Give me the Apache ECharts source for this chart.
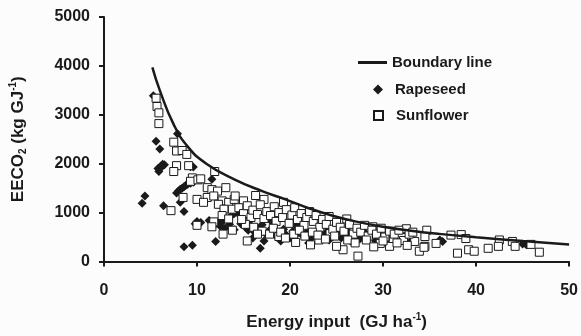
<!DOCTYPE html>
<html>
<head>
<meta charset="utf-8">
<script src="https://cdn.jsdelivr.net/npm/echarts@6/dist/echarts.min.js"></script>
<style>
  html, body { margin: 0; padding: 0; background: #fcfcfc; }
  #chart { width: 581px; height: 336px; }
</style>
</head>
<body>
<div id="chart"></div>
<script>
// boundary line
var boundaryLine = [
  [5.2, 3970], [6, 3500], [7.5, 2800], [9, 2350], [11, 2000], [14, 1680],
  [17, 1440], [19.5, 1270], [22, 1090], [24.5, 940], [27, 820], [30, 710],
  [33, 630], [36, 565], [40, 495], [45, 420], [50, 350]
];

// rapeseed (filled diamonds)
var rapeseed = [
  [5.3, 3390], [5.6, 2460], [6.0, 2300], [5.9, 1840], [5.8, 1900], [6.1, 1950],
  [6.3, 1990], [6.5, 1980], [6.2, 1930], [4.4, 1340], [4.1, 1190], [6.4, 1140],
  [7.9, 2610], [7.8, 1400], [8.0, 1440], [8.2, 1480], [8.4, 1500], [8.6, 1530],
  [8.8, 1560], [9.0, 1580], [9.3, 1600], [9.6, 1620], [8.2, 1210], [8.6, 1020],
  [8.6, 300], [9.5, 330], [9.6, 1930], [9.3, 1940], [9.8, 770], [10.0, 820],
  [10.4, 800], [11.3, 840], [11.6, 1680], [12.0, 410], [12.0, 770], [12.4, 800],
  [12.8, 830], [13.2, 870], [13.6, 920], [14.0, 980], [14.3, 1000], [12.5, 720],
  [13.0, 680], [13.5, 760], [14.0, 650], [14.7, 770], [15.2, 700], [15.5, 640],
  [15.8, 720], [16.2, 600], [16.5, 680], [16.8, 270], [17.0, 750], [17.4, 560],
  [17.8, 640], [18.2, 700], [18.5, 520], [18.9, 600], [19.3, 660], [19.6, 540],
  [20.0, 480], [20.3, 620], [20.7, 560], [21.0, 700], [21.4, 520], [21.8, 600],
  [22.2, 460], [22.6, 560], [23.0, 640], [23.4, 500], [23.8, 580], [24.2, 440],
  [24.7, 520], [25.1, 600], [25.5, 480], [26.0, 560], [26.5, 420], [27.0, 520],
  [27.5, 460], [28.0, 600], [28.6, 500], [29.2, 420], [29.8, 520], [30.5, 460],
  [31.2, 560], [32.0, 480], [33.0, 420], [36.1, 440], [36.4, 410], [45.4, 340],
  [45.0, 360], [15.0, 900], [15.6, 820], [16.0, 480], [17.2, 420], [18.0, 820],
  [19.0, 420], [20.5, 760], [22.0, 380], [24.0, 700], [26.2, 620]
];

// sunflower (open squares)
var sunflower = [
  [5.6, 3340], [5.7, 3170], [5.9, 3040], [5.9, 2820], [7.5, 2440], [7.8, 2260],
  [8.4, 2270], [8.9, 2190], [7.8, 1960], [7.5, 1840], [9.1, 1960], [9.5, 1710],
  [9.3, 1640], [8.5, 1310], [7.2, 1040], [10.0, 740], [10.1, 1670], [10.0, 1270],
  [10.4, 1690], [11.9, 1840], [11.1, 1510], [11.6, 1470], [12.2, 1440], [13.1, 1510],
  [11.1, 1310], [11.8, 1340], [12.7, 1240], [13.4, 1210], [14.0, 1270], [10.7, 1210],
  [12.3, 1170], [12.9, 1070], [13.8, 1070], [12.7, 940], [13.4, 870], [11.8, 810],
  [11.6, 710], [14.1, 1340], [16.3, 1350], [17.2, 1270], [19.3, 1210], [15.0, 1240],
  [15.4, 420], [18.8, 510], [20.6, 390], [22.2, 340], [23.1, 440], [24.3, 570],
  [26.1, 870], [28.9, 710], [32.5, 670], [27.3, 110], [25.7, 240], [33.9, 210],
  [34.5, 310], [25.0, 310], [30.7, 310], [29.7, 370], [33.4, 410], [31.1, 470],
  [32.0, 490], [34.7, 640], [34.5, 510], [34.4, 290], [35.7, 370], [37.3, 540],
  [38.4, 550], [38.9, 470], [38.0, 170], [39.2, 240], [39.8, 210], [41.3, 270],
  [42.5, 440], [42.4, 310], [43.9, 410], [44.2, 310], [45.9, 350], [46.8, 190],
  [14.5, 1100], [15.0, 980], [15.4, 1140], [15.8, 900], [16.0, 1050], [16.5, 960],
  [16.8, 1160], [17.2, 880], [17.5, 1020], [17.9, 940], [18.3, 1120], [18.5, 820],
  [18.8, 1000], [19.2, 900], [19.6, 1060], [19.9, 780], [20.2, 950], [20.5, 1100],
  [20.8, 860], [21.2, 980], [21.5, 740], [21.8, 900], [22.1, 1020], [22.5, 820],
  [22.8, 940], [23.2, 700], [23.5, 860], [23.9, 760], [24.2, 920], [24.6, 660],
  [25.0, 800], [25.4, 700], [25.8, 620], [26.4, 760], [26.8, 560], [27.2, 680],
  [27.6, 600], [28.0, 740], [28.4, 520], [28.8, 640], [29.3, 560], [29.8, 680],
  [30.2, 500], [30.7, 620], [31.2, 560], [31.7, 640], [32.2, 430], [32.8, 560],
  [33.2, 600], [15.2, 760], [16.1, 700], [17.0, 620], [17.8, 560], [18.2, 680],
  [19.0, 600], [19.5, 480], [20.4, 560], [21.0, 640], [21.6, 520], [22.4, 600],
  [23.0, 540], [23.8, 460], [24.8, 520], [26.2, 440], [27.0, 380], [28.2, 440],
  [29.0, 300], [30.0, 420], [31.5, 380], [32.6, 330], [16.5, 560], [14.8, 860],
  [13.8, 640], [12.8, 560]
];

var xTicks = [0, 10, 20, 30, 40, 50];
var yTicks = [0, 1000, 2000, 3000, 4000, 5000];

var ink = '#1a1a1a';
var font = 'Liberation Sans, Arial, sans-serif';

var myChart = echarts.init(document.getElementById('chart'));

var legendText = { color: ink, fontSize: 15, fontWeight: 'bold', fontFamily: font };

var option = {
  animation: false,
  backgroundColor: '#fcfcfc',
  grid: { left: 103, right: 11, top: 17, bottom: 69 },
  legend: [
    {
      data: [{ name: 'Boundary line', icon: 'rect' }],
      left: 358, top: 55, padding: 0, itemWidth: 29, itemHeight: 3, itemGap: 0,
      textStyle: legendText, itemStyle: { color: ink }
    },
    {
      data: [{ name: 'Rapeseed', icon: 'diamond' }],
      left: 373, top: 82, padding: 0, itemWidth: 10, itemHeight: 10, itemGap: 0,
      textStyle: Object.assign({ padding: [0, 0, 0, 7] }, legendText)
    },
    {
      data: [{ name: 'Sunflower', icon: 'rect' }],
      left: 373, top: 108, padding: 0, itemWidth: 9, itemHeight: 9, itemGap: 0,
      textStyle: Object.assign({ padding: [0, 0, 0, 8] }, legendText)
    }
  ],
  xAxis: {
    type: 'value',
    min: xTicks[0], max: xTicks[xTicks.length - 1], interval: 10,
    name: '{a|Energy input  (GJ ha}{sup|-1}{a|)}',
    nameLocation: 'middle', nameGap: 51,
    nameTextStyle: {
      rich: {
        a: { fontSize: 17, fontWeight: 'bold', color: ink, fontFamily: font, lineHeight: 20 },
        sup: { fontSize: 10, fontWeight: 'bold', color: ink, fontFamily: font, verticalAlign: 'top', lineHeight: 20 }
      }
    },
    splitLine: { show: false },
    axisLine: { lineStyle: { color: ink, width: 2 } },
    axisTick: { length: 5, lineStyle: { color: ink, width: 2 } },
    axisLabel: { color: ink, fontSize: 16, fontWeight: 'bold', fontFamily: font, margin: 21 }
  },
  yAxis: {
    type: 'value',
    min: yTicks[0], max: yTicks[yTicks.length - 1], interval: 1000,
    name: '{a|EECO}{sub|2}{a| (kg GJ}{sup|-1}{a|)}',
    nameLocation: 'middle', nameGap: 76, nameRotate: 90,
    nameTextStyle: {
      rich: {
        a: { fontSize: 17, fontWeight: 'bold', color: ink, fontFamily: font, lineHeight: 20 },
        sub: { fontSize: 10, fontWeight: 'bold', color: ink, fontFamily: font, verticalAlign: 'bottom', lineHeight: 20 },
        sup: { fontSize: 10, fontWeight: 'bold', color: ink, fontFamily: font, verticalAlign: 'top', lineHeight: 20 }
      }
    },
    splitLine: { show: false },
    axisLine: { show: true, lineStyle: { color: ink, width: 2 } },
    axisTick: { show: true, length: 5, lineStyle: { color: ink, width: 2 } },
    axisLabel: {
      color: ink, fontSize: 16, fontWeight: 'bold', fontFamily: font, margin: 14,
      formatter: function (v) { return String(v); }
    }
  },
  series: [
    {
      name: 'Boundary line',
      type: 'line',
      data: boundaryLine,
      smooth: true,
      showSymbol: false,
      lineStyle: { color: ink, width: 2.5 },
      itemStyle: { color: ink },
      z: 3
    },
    {
      name: 'Rapeseed',
      type: 'scatter',
      data: rapeseed,
      symbol: 'diamond',
      symbolSize: 9,
      itemStyle: { color: ink, opacity: 1 },
      z: 2
    },
    {
      name: 'Sunflower',
      type: 'scatter',
      data: sunflower,
      symbol: 'rect',
      symbolSize: 8,
      itemStyle: { color: '#ffffff', borderColor: ink, borderWidth: 1, opacity: 1 },
      z: 2
    }
  ]
};

myChart.setOption(option);
</script>
</body>
</html>
